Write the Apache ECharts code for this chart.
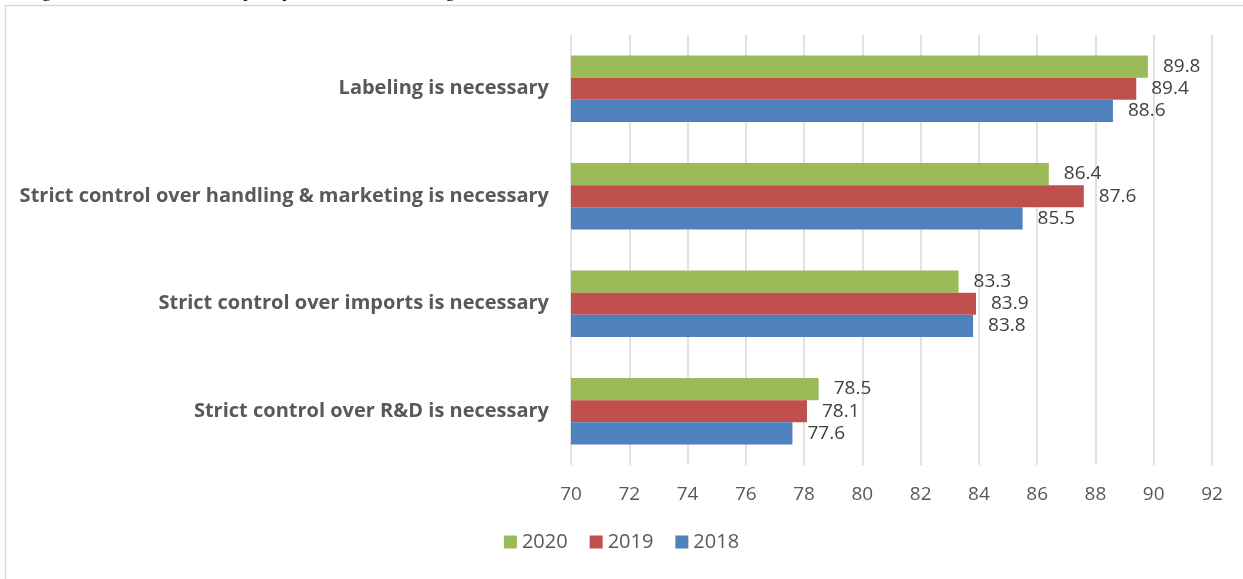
<!DOCTYPE html>
<html>
<head>
<meta charset="utf-8">
<script src="https://cdn.jsdelivr.net/npm/echarts@6/dist/echarts.min.js"></script>
<style>
html,body{margin:0;padding:0;background:#fff;}
#chart{width:1243px;height:579px;}
</style>
</head>
<body>
<div id="chart"></div>
<script>
// categories listed bottom-to-top (ECharts category axis starts at bottom)
const categories = [
  "Strict control over R&D is necessary",
  "Strict control over imports is necessary",
  "Strict control over handling & marketing is necessary",
  "Labeling is necessary"
];
const values2018 = [77.6, 83.8, 85.5, 88.6];
const values2019 = [78.1, 83.9, 87.6, 89.4];
const values2020 = [78.5, 83.3, 86.4, 89.8];
const legendOrder = ["2020", "2019", "2018"];
const captionText = "Figure 3. Trends in consumer perceptions of GMO labeling";

const chart = echarts.init(document.getElementById('chart'), null, {renderer: 'canvas'});
const labelFont = "'Open Sans', 'Noto Sans', sans-serif";
const valueLabel = {
  show: true,
  position: 'right',
  distance: 15,
  color: '#404040',
  fontSize: 19,
  fontFamily: labelFont
};
function mkSeries(name, data, color) {
  return {
    name: name,
    type: 'bar',
    data: data,
    barGap: '0%',
    barCategoryGap: '38%',
    itemStyle: { color: color },
    label: valueLabel,
    emphasis: { disabled: true },
    animation: false
  };
}
chart.setOption({
  animation: false,
  backgroundColor: '#ffffff',
  graphic: [
    {
      type: 'rect',
      shape: { x: 5.5, y: 5.5, width: 1400, height: 800 },
      style: { fill: 'none', stroke: '#D9D9D9', lineWidth: 1.5 },
      silent: true,
      z: -1
    },
    {
      type: 'text',
      x: 27,
      y: -17,
      style: {
        text: captionText,
        font: "18px 'Liberation Serif', serif",
        fill: '#000'
      },
      silent: true
    }
  ],
  legend: {
    data: legendOrder,
    bottom: 22,
    left: 'center',
    itemWidth: 13,
    itemHeight: 13,
    itemGap: 22,
    icon: 'rect',
    textStyle: { color: '#595959', fontSize: 20, fontFamily: labelFont }
  },
  grid: { left: 571, right: 31, top: 35, bottom: 114, containLabel: false },
  xAxis: {
    type: 'value',
    min: 70,
    max: 92,
    interval: 2,
    axisLine: { show: false },
    axisTick: { show: false },
    splitLine: { show: true, lineStyle: { color: '#D9D9D9', width: 1.5 } },
    axisLabel: { color: '#595959', fontSize: 19, fontFamily: labelFont, margin: 20 }
  },
  yAxis: {
    type: 'category',
    data: categories,
    axisLine: { show: false },
    axisTick: { show: false },
    axisLabel: {
      color: '#595959',
      fontSize: 20,
      fontWeight: 'bold',
      fontFamily: labelFont,
      margin: 22
    }
  },
  series: [
    mkSeries('2020', values2020, '#9BBB59'),
    mkSeries('2019', values2019, '#C0504D'),
    mkSeries('2018', values2018, '#4F81BD')
  ]
});
</script>
</body>
</html>
